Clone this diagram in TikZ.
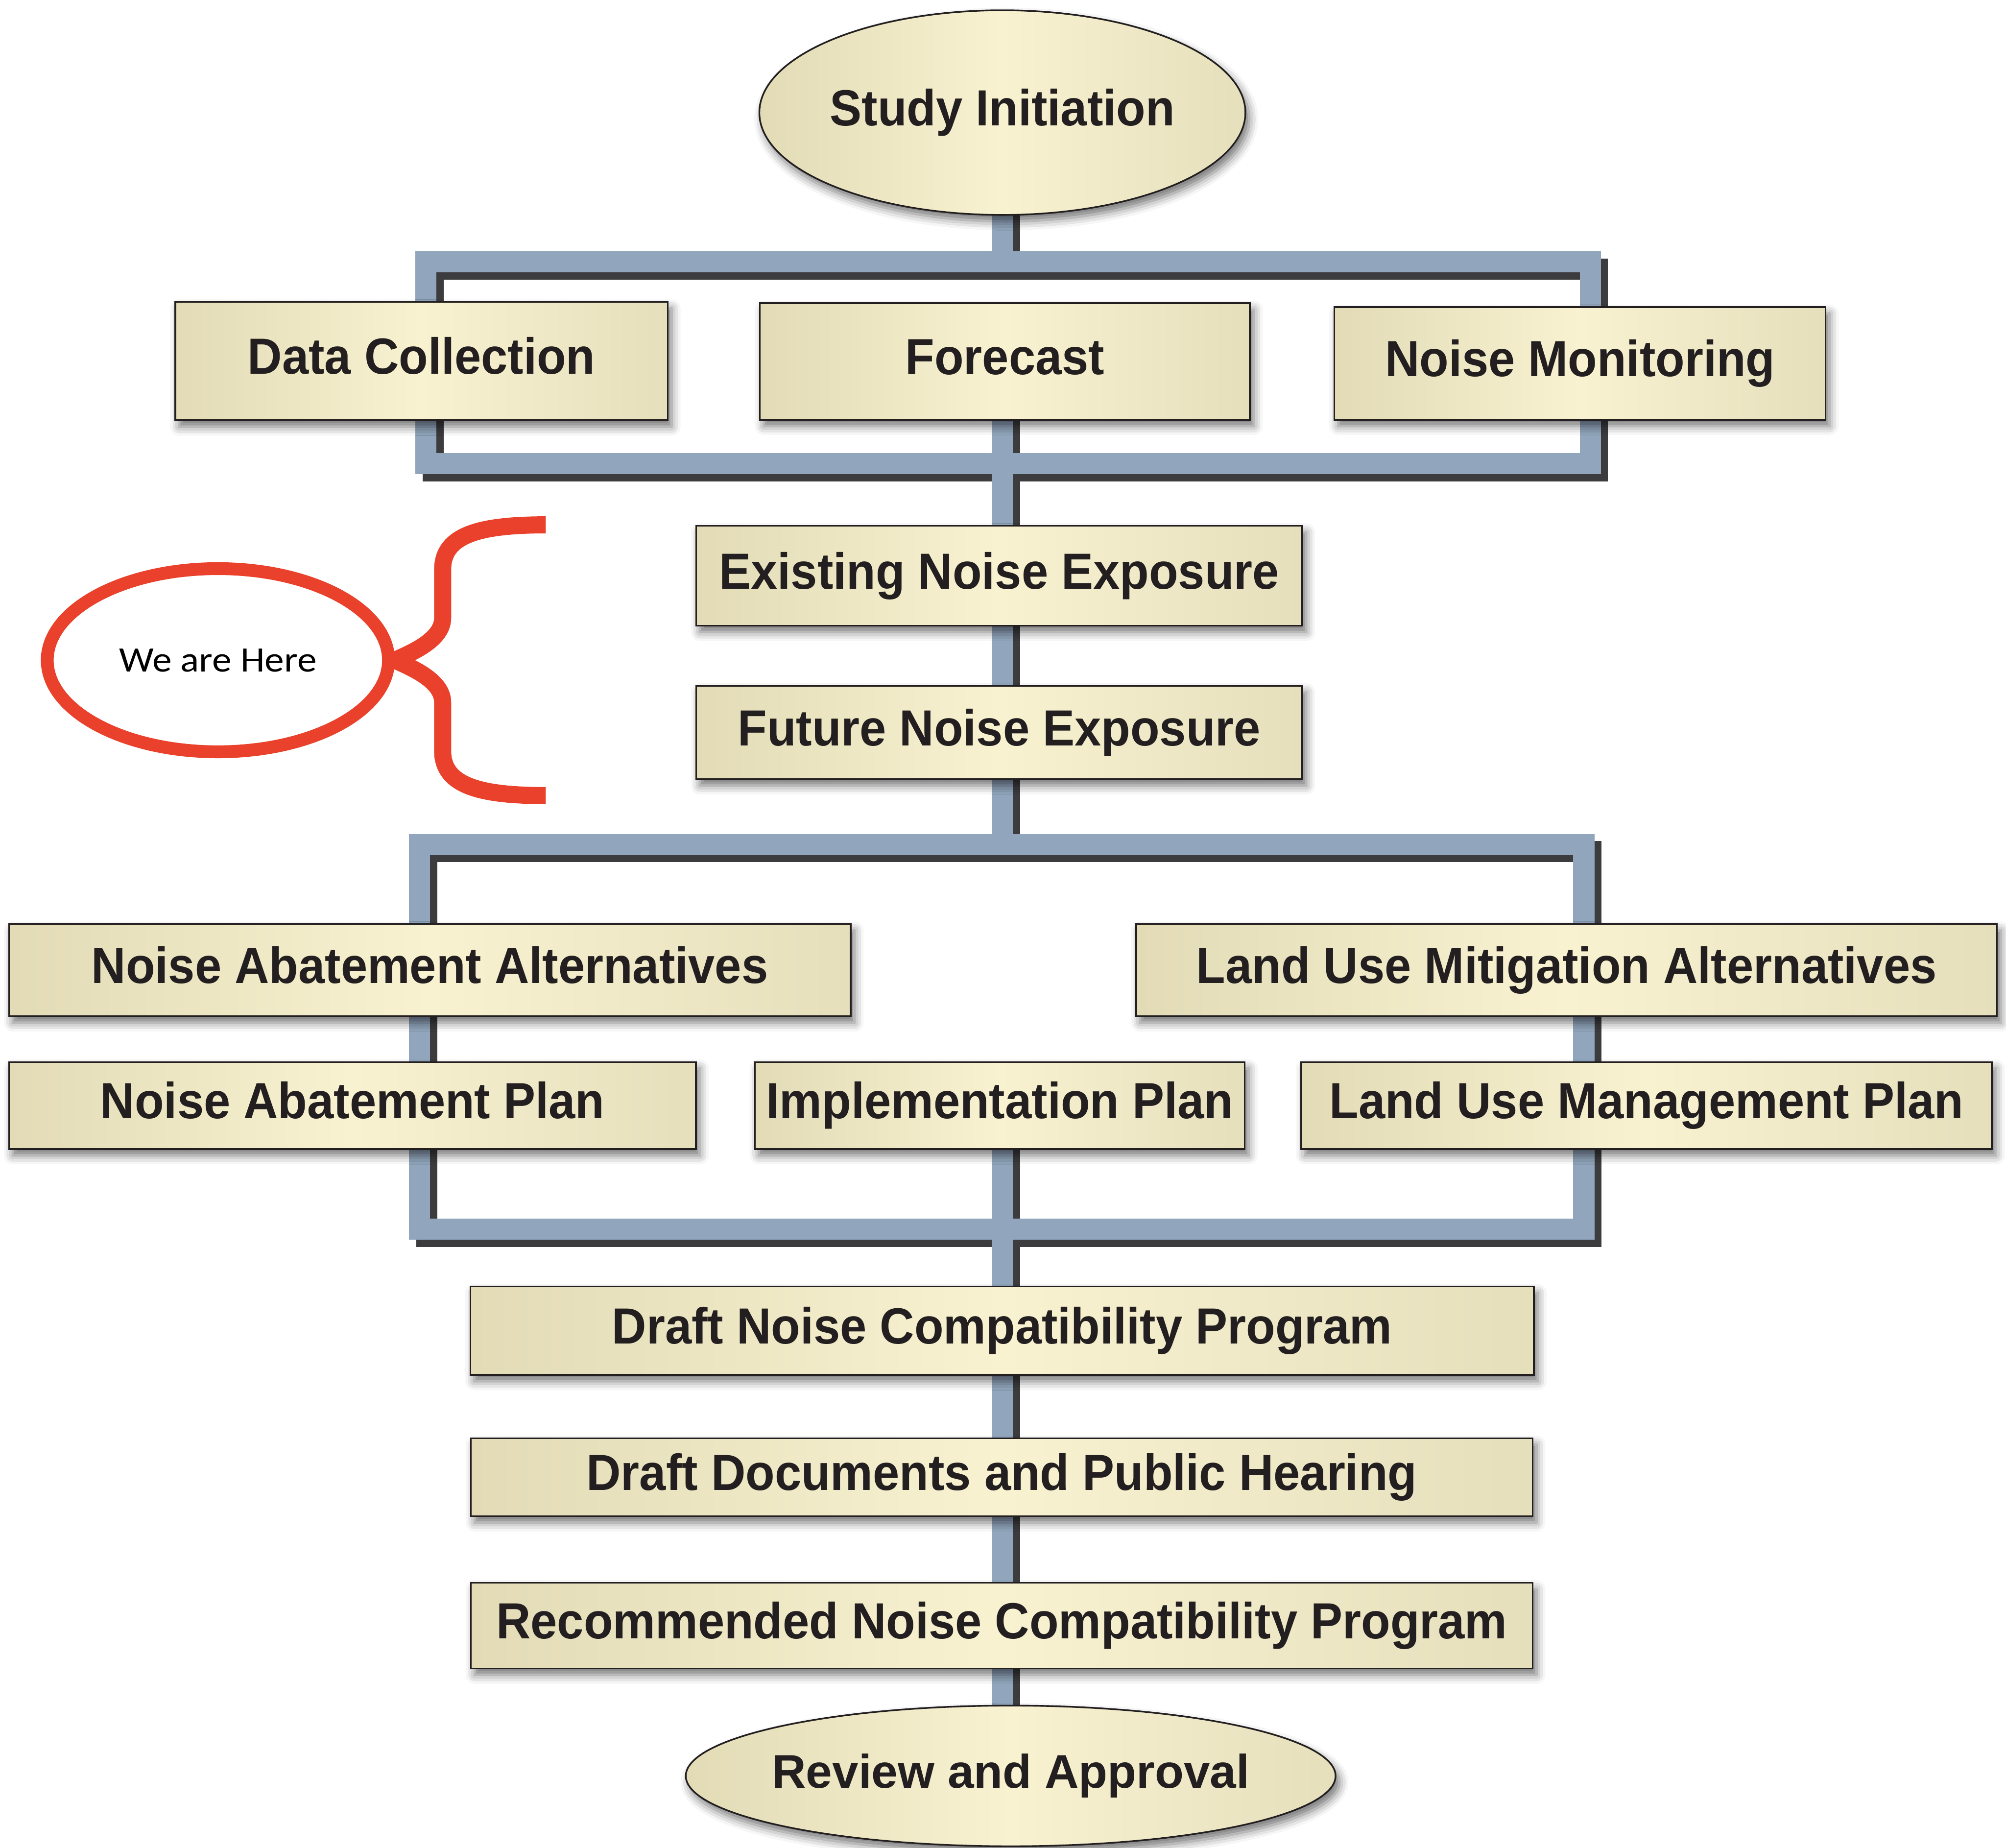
\documentclass[tikz,border=0pt]{standalone}
\usepackage{fontspec}
\setmainfont{Liberation Sans}
\newfontfamily\boxfont{Liberation Sans}[FakeStretch=0.94]
\newfontfamily\ovalfont{Liberation Sans}
\newfontfamily\herefont{Carlito}[FakeStretch=1.09]
\usetikzlibrary{shapes.geometric,shadows.blur}
\pgfdeclarelayer{bgL}
\pgfdeclarelayer{shadowL}
\pgfdeclarelayer{blueL}
\pgfsetlayers{bgL,shadowL,blueL,main}
\definecolor{connblue}{HTML}{91A5BC}
\definecolor{conndark}{HTML}{3C3C3F}
\definecolor{boxedgeL}{HTML}{E2DBB6}
\definecolor{boxmid}{HTML}{F8F2D1}
\definecolor{boxedgeR}{HTML}{E6DFBC}
\definecolor{inkc}{HTML}{231F20}
\definecolor{hered}{HTML}{E9412B}
\tikzset{
  boxshadow/.style={blur shadow={shadow xshift=0.06cm, shadow yshift=-0.1cm,
      shadow blur radius=0.14cm, shadow opacity=55}},
  panel/.style={draw=inkc, line width=0.74pt,
    left color=boxedgeL, right color=boxedgeR, middle color=boxmid,
    boxshadow, inner sep=0pt, text=inkc},
  boxnode/.style={panel, rectangle,
    font=\boxfont\bfseries\fontsize{22.6}{27}\selectfont,
    text height=16.3pt, text depth=4.7pt},
  ovalnode/.style={panel, ellipse, inner xsep=-0.3cm},
  conn/.style={connblue, line width=0.33cm, line join=miter},
  connshadow/.style={conndark, line width=0.33cm, line join=miter},
  herebrace/.style={hered, line width=7.6pt, line join=round},
}
\begin{document}
\begin{tikzpicture}[x=0.02cm, y=-0.02cm]
\useasboundingbox (0,0) rectangle (1568,1444);
\begin{pgfonlayer}{bgL}
  \fill[white] (0,0) rectangle (1568,1444);
\end{pgfonlayer}

% hidden warm-up shadow (covered by the Study Initiation oval)
\path[boxshadow, fill=boxmid] (780,85) rectangle (782,87);

% nodes
\node[ovalnode, minimum width=7.6cm, minimum height=3.2cm,
  font=\boxfont\bfseries\fontsize{22.6}{27}\selectfont,
  text height=16.3pt, text depth=4.7pt] (si) at (783.5,88) {Study Initiation};
\node[boxnode, minimum width=7.70cm, minimum height=1.85cm] (dc) at (329.5,282.25) {Data Collection};
\node[boxnode, minimum width=7.66cm, minimum height=1.82cm] (fc) at (785.5,282.5) {Forecast};
\node[boxnode, minimum width=7.68cm, minimum height=1.76cm] (nm) at (1235,284) {Noise Monitoring};
\node[boxnode, minimum width=9.48cm, minimum height=1.56cm] (ene) at (781,450) {Existing Noise Exposure};
\node[boxnode, minimum width=9.48cm, minimum height=1.46cm] (fne) at (781,572.5) {Future Noise Exposure};
\node[boxnode, minimum width=13.16cm, minimum height=1.44cm] (naa) at (336,758.25) {Noise Abatement Alternatives};
\node[boxnode, minimum width=13.46cm, minimum height=1.44cm] (luma) at (1224.5,758.25) {Land Use Mitigation Alternatives};
\node[boxnode, minimum width=10.74cm, minimum height=1.36cm] (nap) at (275.5,864) {Noise Abatement Plan};
\node[boxnode, minimum width=7.66cm, minimum height=1.36cm] (ip) at (781.5,864) {Implementation Plan};
\node[boxnode, minimum width=10.80cm, minimum height=1.36cm] (lump) at (1287,864) {Land Use Management Plan};
\node[boxnode, minimum width=16.63cm, minimum height=1.38cm] (dncp) at (783.3,1040) {Draft Noise Compatibility Program};
\node[boxnode, minimum width=16.60cm, minimum height=1.22cm] (ddph) at (783,1154.5) {Draft Documents and Public Hearing};
\node[boxnode, minimum width=16.60cm, minimum height=1.34cm] (rncp) at (783,1270.5) {Recommended Noise Compatibility Program};
\node[ovalnode, minimum width=10.16cm, minimum height=2.2cm,
  font=\ovalfont\bfseries\fontsize{21}{25}\selectfont,
  text height=15.1pt, text depth=4.4pt] (ra) at (790,1388) {Review and Approval};

% "We are Here" marker
\node[ellipse, draw=hered, line width=5.7pt, fill=white,
  minimum width=5.336cm, minimum height=2.864cm, inner sep=0pt,
  font=\herefont\fontsize{15.9}{19}\selectfont] (weh) at (170.3,516) {We are Here};

% connector geometry
\coordinate (sx) at (783.5,0);
\coordinate (b1tl) at (333,204.7);
\coordinate (b1br) at (1243,362.4);
\coordinate (b2tl) at (327.9,660);
\coordinate (b2br) at (1238,960.8);

\begin{pgfonlayer}{shadowL}
  \begin{scope}[transform canvas={xshift=0.112cm, yshift=-0.112cm}]
    \draw[connshadow] (b1tl) rectangle (b1br);
    \draw[connshadow] (b2tl) rectangle (b2br);
    \draw[connshadow] (si.center -| sx) -- (b1tl -| sx);
    \draw[connshadow] (fc.center -| sx) -- (b2tl -| sx);
    \draw[connshadow] (ip.center -| sx) -- (ra.center -| sx);
  \end{scope}
\end{pgfonlayer}

\begin{pgfonlayer}{blueL}
  \draw[conn] (b1tl) rectangle (b1br);
  \draw[conn] (b2tl) rectangle (b2br);
  \draw[conn] (si.center -| sx) -- (b1tl -| sx);
  \draw[conn] (fc.center -| sx) -- (b2tl -| sx);
  \draw[conn] (ip.center -| sx) -- (ra.center -| sx);
  % red brace
  \draw[herebrace] (426.6,410.2) .. controls (375,410.2) and (346,418) .. (346,445)
    -- (346,483) .. controls (346,500) and (322,510) .. (weh.east)
    .. controls (322,522) and (346,532) .. (346,549)
    -- (346,587) .. controls (346,614) and (375,621.8) .. (426.6,621.8);
\end{pgfonlayer}
\end{tikzpicture}
\end{document}
